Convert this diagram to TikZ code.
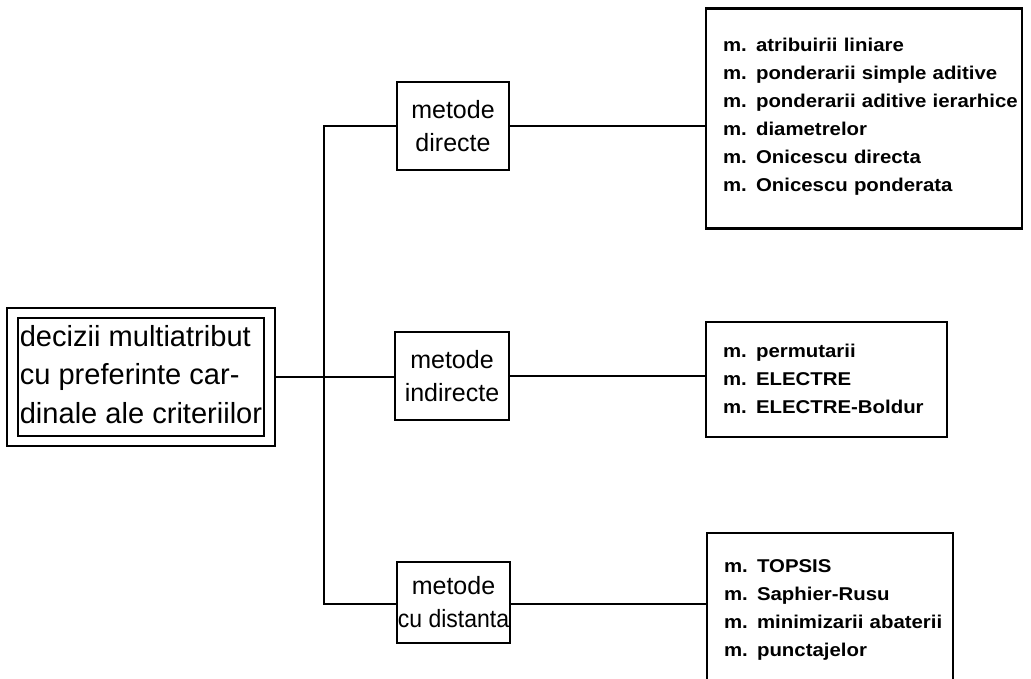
\documentclass[tikz,border=0pt]{standalone}
\usepackage{fontspec}
\setmainfont{Liberation Sans}
\newfontfamily\listfont[FakeStretch=1.1]{Liberation Sans Bold}
\newfontfamily\narrowfont[FakeStretch=0.92]{Liberation Sans}
% lines set one per row, never broken
\newcommand{\rows}[1]{\begin{tabular}{@{}l@{}}#1\end{tabular}}

\begin{document}
\begin{tikzpicture}[x=0.75pt,y=-0.75pt,
  box/.style={draw, line width=1.6pt, rectangle, inner sep=0pt},
  rootbox/.style={box, double, double distance=6.5pt, outer sep=4.85pt,
    minimum width=192.75pt, minimum height=96pt,
    font=\fontsize{21.8pt}{28.9pt}\selectfont},
  methbox/.style={box, align=center, font=\fontsize{18.75pt}{24.75pt}\selectfont},
  listbox/.style={box, align=left, font=\listfont\fontsize{13.9pt}{21pt}\selectfont},
  link/.style={line width=1.3pt}]
\clip (0,0) rectangle (1031,678);

% root of the classification
\node[rootbox] (root) at (141,377)
  {\rows{decizii multiatribut\\cu preferinte car-\\dinale ale criteriilor}};

% method groups
\node[methbox, minimum width=84pt, minimum height=66pt] (mdir) at (453,126)
  {metode\\directe};
\node[methbox, minimum width=85.5pt, minimum height=66pt] (mind) at (452,376)
  {metode\\indirecte};
\node[methbox, minimum width=84.75pt, minimum height=60.75pt] (mdist) at (453.5,602.5)
  {metode\\{\narrowfont cu distanta}};

% lists of methods
\node[listbox, minimum width=237pt, minimum height=165pt, text width=211.5pt] (r1) at (864,118.5)
  {\rows{m. atribuirii liniare\\
   m. ponderarii simple aditive\\
   m. ponderarii aditive ierarhice\\
   m. diametrelor\\
   m. Onicescu directa\\
   m. Onicescu ponderata\\[4.5pt]}};
\node[listbox, minimum width=180.75pt, minimum height=86.25pt, text width=155.25pt] (r2) at (826.5,379.5)
  {\rows{m. permutarii\\
   m. ELECTRE\\
   m. ELECTRE-Boldur}};
\node[listbox, minimum width=184.5pt, minimum height=113.25pt, text width=159pt] (r3) at (830,608.5)
  {\rows{m. TOPSIS\\
   m. Saphier-Rusu\\
   m. minimizarii abaterii\\
   m. punctajelor}};

% connectors
\coordinate (jt) at (324,126);
\coordinate (jb) at (324,604);
\draw[link] (mdir.west) -- (jt) -- (jb) -- (jb -| mdist.west);
\draw[link] (root.east) -- (root.east -| mind.west);
\draw[link] (mdir.east) -- (mdir.east -| r1.west);
\draw[link] (mind.east) -- (mind.east -| r2.west);
\draw[link] (jb -| mdist.east) -- (jb -| r3.west);
\end{tikzpicture}
\end{document}
